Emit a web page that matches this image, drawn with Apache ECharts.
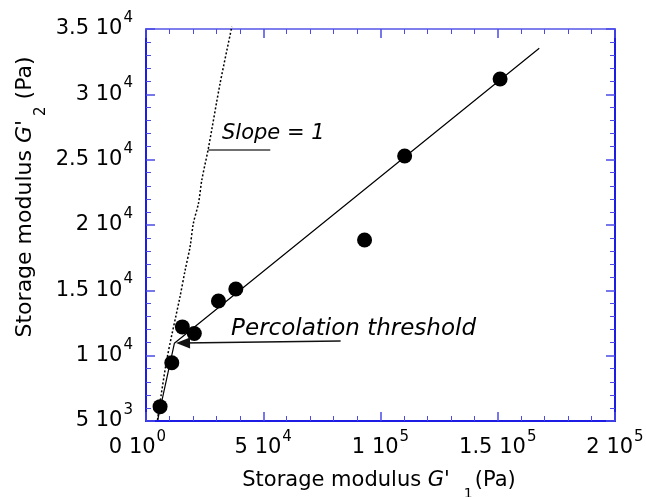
<!DOCTYPE html>
<html>
<head>
<meta charset="utf-8">
<script src="https://cdn.jsdelivr.net/npm/echarts@6/dist/echarts.min.js"></script>
<style>
  html, body { margin: 0; padding: 0; background: #ffffff; }
  #chart { width: 646px; height: 497px; }
</style>
</head>
<body>
<div id="chart"></div>
<script>
// Measured storage moduli (Pa)
const g1Values = [6000, 11000, 15500, 20600, 30900, 38300, 93200, 110300, 151000];
const g2Values = [6100, 9460, 12200, 11700, 14180, 15100, 18850, 25280, 31170];

// Linear fit: steep branch below the threshold, then the main branch
const fitX = [5000, 12100, 167700];
const fitY = [5080, 10950, 33520];

// Reference curve labelled "Slope = 1"
const slopeX = [4900, 8850, 14500, 16700, 18800, 20200, 22400, 23800, 26600, 31600, 36600];
const slopeY = [5080, 9670, 14510, 16550, 18340, 20130, 21680, 23440, 25870, 30840, 35170];

// Tick labels written as mantissa and power of ten
const xTickValues = [0, 50000, 100000, 150000, 200000];
const xTickMant = ['0', '5', '1', '1.5', '2'];
const xTickExp = ['0', '4', '5', '5', '5'];
const yTickValues = [5000, 10000, 15000, 20000, 25000, 30000, 35000];
const yTickMant = ['5', '1', '1.5', '2', '2.5', '3', '3.5'];
const yTickExp = ['3', '4', '4', '4', '4', '4', '4'];

// Annotations: [x, y, text, font size]
const notes = [
  [32400, 27000, 'Slope = 1', 21],
  [36300, 12050, 'Percolation threshold', 23]
];
const slopeUnderline = [[26500, 25790], [53000, 25790]];
const thresholdArrow = [[83000, 11120], [15800, 10970]];

const FONT = 'DejaVu Sans';
const tickRich = {
  m: { fontFamily: FONT, fontSize: 21, lineHeight: 24, color: '#000' },
  s: { fontFamily: FONT, fontSize: 15, lineHeight: 17, color: '#000', padding: [0, 0, 22, 1] },
  s0: { fontFamily: FONT, fontSize: 15, lineHeight: 17, color: '#000', padding: [0, 17, 22, 1] }
};

function powLabel(values, mant, exp) {
  return function (v) {
    const i = values.indexOf(v);
    if (i < 0) return '';
    const sup = (values === xTickValues && i === 0) ? 's0' : 's';
    return '{m|' + mant[i] + ' 10}{' + sup + '|' + exp[i] + '}';
  };
}

const frameDark = '#1c1ce4';
const frameLight = '#7f7fee';
const tickColor = '#4a4ae8';

function axisBase(showLabel, lineColor) {
  return {
    type: 'value',
    axisLine: { show: true, onZero: false, lineStyle: { color: lineColor, width: 2 } },
    axisTick: { show: true, inside: true, length: 9, lineStyle: { color: tickColor, width: 1.5 } },
    minorTick: { show: true, splitNumber: 5, length: 5, lineStyle: { color: tickColor, width: 1 } },
    splitLine: { show: false },
    minorSplitLine: { show: false },
    axisLabel: { show: showLabel }
  };
}

const chart = echarts.init(document.getElementById('chart'), null, { renderer: 'canvas' });

const xMain = Object.assign(axisBase(true, frameDark), {
  position: 'bottom', min: 0, max: 200000, interval: 50000
});
xMain.axisLabel = { show: true, margin: 15, formatter: powLabel(xTickValues, xTickMant, xTickExp), rich: tickRich };
const xTop = Object.assign(axisBase(false, frameLight), {
  position: 'top', min: 0, max: 200000, interval: 50000
});
const yMain = Object.assign(axisBase(true, frameDark), {
  position: 'left', min: 5000, max: 35000, interval: 5000
});
yMain.axisLabel = { show: true, margin: 13, formatter: powLabel(yTickValues, yTickMant, yTickExp), rich: tickRich };
const yRight = Object.assign(axisBase(false, frameDark), {
  position: 'right', min: 5000, max: 35000, interval: 5000
});

const titleRich = {
  n: { fontFamily: FONT, fontSize: 21, color: '#000' },
  i: { fontFamily: FONT, fontSize: 21, fontStyle: 'italic', color: '#000' },
  sub: { fontFamily: FONT, fontSize: 14, color: '#000', padding: [26, 2, 0, 14] }
};
const yTitleRich = {
  n: { fontFamily: FONT, fontSize: 22, color: '#000' },
  i: { fontFamily: FONT, fontSize: 22, fontStyle: 'italic', color: '#000' },
  sub: { fontFamily: FONT, fontSize: 15, color: '#000', padding: [32, 0, 0, 4] }
};

chart.setOption({
  animation: false,
  backgroundColor: '#ffffff',
  grid: { left: 146, right: 31, top: 29, bottom: 76, containLabel: false, outerBoundsMode: 'none' },
  xAxis: [xMain, xTop],
  yAxis: [yMain, yRight],
  graphic: [
    {
      type: 'text', x: 379, y: 481, silent: true,
      style: { text: "{n|Storage modulus }{i|G'}{sub|1}{n|(Pa)}", rich: titleRich, align: 'center', verticalAlign: 'middle' }
    },
    {
      type: 'text', x: 25, y: 197, rotation: Math.PI / 2, silent: true,
      style: { text: "{n|Storage modulus }{i|G'}{sub|2}{n| (Pa)}", rich: yTitleRich, align: 'center', verticalAlign: 'middle' }
    }
  ],
  series: [
    {
      name: 'Slope = 1',
      type: 'line',
      xAxisIndex: 0, yAxisIndex: 0,
      data: slopeX.map((x, i) => [x, slopeY[i]]),
      smooth: 0.3,
      showSymbol: false,
      clip: false,
      lineStyle: { color: '#000', width: 1.5, type: [2, 2], opacity: 1 },
      silent: true,
      z: 2
    },
    {
      name: 'fit',
      type: 'line',
      xAxisIndex: 0, yAxisIndex: 0,
      data: fitX.map((x, i) => [x, fitY[i]]),
      showSymbol: false,
      lineStyle: { color: '#000', width: 1.2, opacity: 1 },
      silent: true,
      z: 3,
      markLine: {
        silent: true,
        animation: false,
        label: { show: false },
        emphasis: { disabled: true },
        data: [
          [
            { coord: slopeUnderline[0], symbol: 'none', lineStyle: { color: '#707070', width: 2, type: 'solid', opacity: 1 } },
            { coord: slopeUnderline[1], symbol: 'none' }
          ],
          [
            { coord: thresholdArrow[0], symbol: 'none', lineStyle: { color: '#111', width: 1.5, type: 'solid', opacity: 1 } },
            { coord: thresholdArrow[1], symbol: 'triangle', symbolSize: [11, 14], itemStyle: { color: '#000', opacity: 1 } }
          ]
        ]
      }
    },
    {
      name: 'data',
      type: 'scatter',
      xAxisIndex: 0, yAxisIndex: 0,
      data: g1Values.map((x, i) => [x, g2Values[i]]),
      symbol: 'circle',
      symbolSize: 15,
      itemStyle: { color: '#000', opacity: 1 },
      silent: true,
      z: 4
    },
    {
      name: 'notes',
      type: 'scatter',
      xAxisIndex: 0, yAxisIndex: 0,
      data: notes.map(n => ({
        value: [n[0], n[1]],
        name: n[2],
        label: { fontSize: n[3] }
      })),
      symbolSize: 0,
      silent: true,
      itemStyle: { opacity: 1 },
      label: {
        show: true,
        position: [0, 0],
        align: 'left',
        verticalAlign: 'middle',
        formatter: p => p.name,
        fontFamily: FONT,
        fontSize: 21,
        fontStyle: 'italic',
        color: '#000',
        opacity: 1
      },
      z: 5
    }
  ]
});
</script>
</body>
</html>
